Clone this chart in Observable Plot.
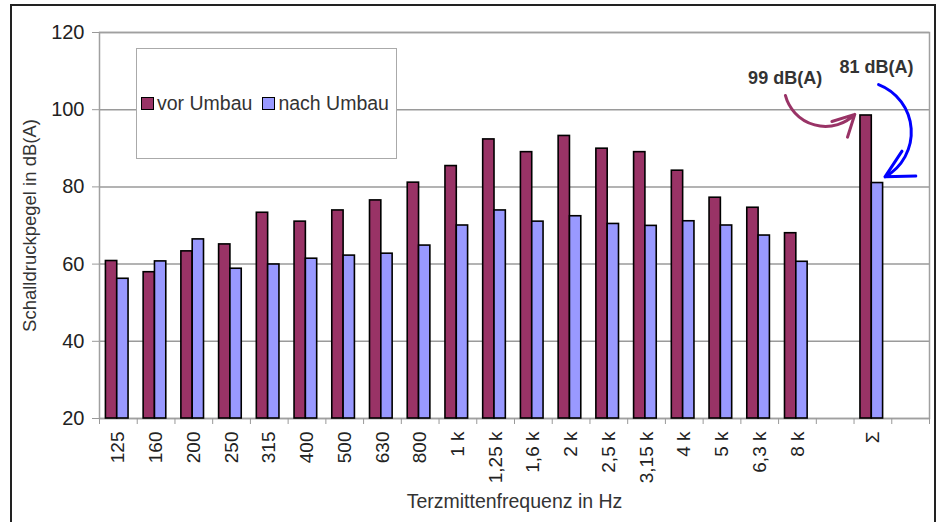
<!DOCTYPE html>
<html><head><meta charset="utf-8">
<script src="https://cdn.jsdelivr.net/npm/d3@7"></script>
<script src="https://cdn.jsdelivr.net/npm/@observablehq/plot@0.6"></script>
<style>
body{margin:0;background:#fff;}
#wrap{position:relative;width:940px;height:522px;overflow:hidden;font-family:"Liberation Sans",Arial,sans-serif;background:#fff;}
#border{position:absolute;left:10px;top:4px;width:926px;height:540px;border:2px solid #222;box-sizing:border-box;pointer-events:none}
#legend{position:absolute;left:136px;top:48px;width:261px;height:111px;border:1.5px solid #aaa;background:#fff;box-sizing:border-box;display:flex;align-items:center;padding-left:4px;font-size:19.5px;color:#333;white-space:nowrap;}
.item{display:flex;align-items:center;margin-right:10px;flex-shrink:0;white-space:nowrap}
.sw{width:11px;height:11px;border:1.5px solid #000;margin-right:3px;box-sizing:content-box;flex-shrink:0}
svg{position:absolute;left:0;top:0}
</style></head>
<body>
<div id="wrap"></div>
<script>
const categories = ["125","160","200","250","315","400","500","630","800","1 k","1,25 k","1,6 k","2 k","2,5 k","3,15 k","4 k","5 k","6,3 k","8 k","","Σ",""];
const vorUmbau  = [60.8,57.9,63.3,65.1,73.3,71.0,73.9,76.5,81.1,85.4,92.3,89.0,93.2,89.9,89.0,84.2,77.2,74.6,68.0,null,98.5,null];
const nachUmbau = [56.2,60.7,66.4,58.8,59.9,61.4,62.2,62.7,64.8,70.0,73.9,71.0,72.4,70.4,69.9,71.1,70.0,67.4,60.6,null,81.0,null];
const seriesNames = ["vor Umbau","nach Umbau"];
const seriesColors = ["#993366","#9999ff"];
const yTicks = [20,40,60,80,100,120];
const xTitle = "Terzmittenfrequenz in Hz";
const yTitle = "Schalldruckpegel in dB(A)";

const rows = categories.flatMap((c,i)=>[
  {i, c, s: seriesNames[0], v: vorUmbau[i], k:0},
  {i, c, s: seriesNames[1], v: nachUmbau[i], k:1}
]).filter(d => d.v != null);

const iS = categories.indexOf("Σ");
const font = "Liberation Sans, Arial, sans-serif";

const chart = Plot.plot({
  width: 940, height: 522,
  marginLeft: 99, marginRight: 11, marginTop: 32, marginBottom: 104,
  style: {fontFamily: font, fontSize: "18px", color: "#333", background: "transparent"},
  x: {domain: [0, categories.length], axis: null},
  y: {domain: [yTicks[0], yTicks[yTicks.length-1]], axis: null},
  color: {domain: seriesNames, range: seriesColors},
  marks: [
    Plot.gridY(yTicks, {stroke: "#9a9a9a", strokeOpacity: 1, strokeWidth: 1.5}),
    Plot.frame({stroke: "#a0a0a0", strokeWidth: 1.5}),
    Plot.axisY({ticks: yTicks, tickSize: 7, tickPadding: 8, stroke: "#999", fill: "#222", fontSize: "20px", label: null}),
    Plot.axisX({ticks: d3.range(0, categories.length + 1), tickSize: 6, tickFormat: () => "", stroke: "#999", label: null}),
    Plot.axisX({ticks: categories.map((c,i)=>i+0.5), tickFormat: d => categories[Math.floor(d)], tickSize: 0, tickPadding: 13, tickRotate: -90, fill: "#222", fontSize: "19px", label: null}),
    Plot.rectY(rows, {
      x1: d => d.i + 0.17 + 0.3*d.k,
      x2: d => d.i + 0.47 + 0.3*d.k,
      y1: yTicks[0], y2: "v", fill: "s", stroke: "#000", strokeWidth: 1.6
    }),
    Plot.text([xTitle], {frameAnchor: "bottom", text: d => d, dy: 89, fontSize: 19.5, fill: "#333"}),
    Plot.text([yTitle], {frameAnchor: "left", text: d => d, dx: -69, rotate: -90, textAnchor: "middle", fontSize: 18.5, fill: "#333"}),
    Plot.text([{x: iS + 0.32, y: vorUmbau[iS]}], {x: "x", y: "y", text: d => `${Math.round(d.y)} dB(A)`, dx: -81, dy: -37, fontSize: 18, fontWeight: "bold", fill: "#333"}),
    Plot.text([{x: iS + 0.62, y: nachUmbau[iS]}], {x: "x", y: "y", text: d => `${Math.round(d.y)} dB(A)`, dx: -1, dy: -116, fontSize: 18, fontWeight: "bold", fill: "#333"}),
    Plot.arrow([{x1: iS - 1.82, y1: vorUmbau[iS] + 5.2, x2: iS + 0.02, y2: vorUmbau[iS] + 0.3}],
      {x1: "x1", y1: "y1", x2: "x2", y2: "y2", bend: -60, stroke: "#993366", strokeWidth: 3, headLength: 18, headAngle: 55}),
    Plot.arrow([{x1: iS + 0.65, y1: nachUmbau[iS] + 25.5, x2: iS + 0.82, y2: nachUmbau[iS] + 1.6}],
      {x1: "x1", y1: "y1", x2: "x2", y2: "y2", bend: 65, stroke: "#0000ff", strokeWidth: 3, headLength: 18, headAngle: 55})
  ]
});

const wrap = document.getElementById("wrap");
wrap.appendChild(chart);
const legend = document.createElement("div");
legend.id = "legend";
seriesNames.forEach((n,i)=>{
  const it = document.createElement("div"); it.className = "item";
  const sw = document.createElement("span"); sw.className = "sw"; sw.style.background = seriesColors[i];
  const tx = document.createElement("span"); tx.textContent = n;
  it.appendChild(sw); it.appendChild(tx); legend.appendChild(it);
});
wrap.appendChild(legend);
const border = document.createElement("div"); border.id = "border";
wrap.appendChild(border);
</script>
</body></html>
